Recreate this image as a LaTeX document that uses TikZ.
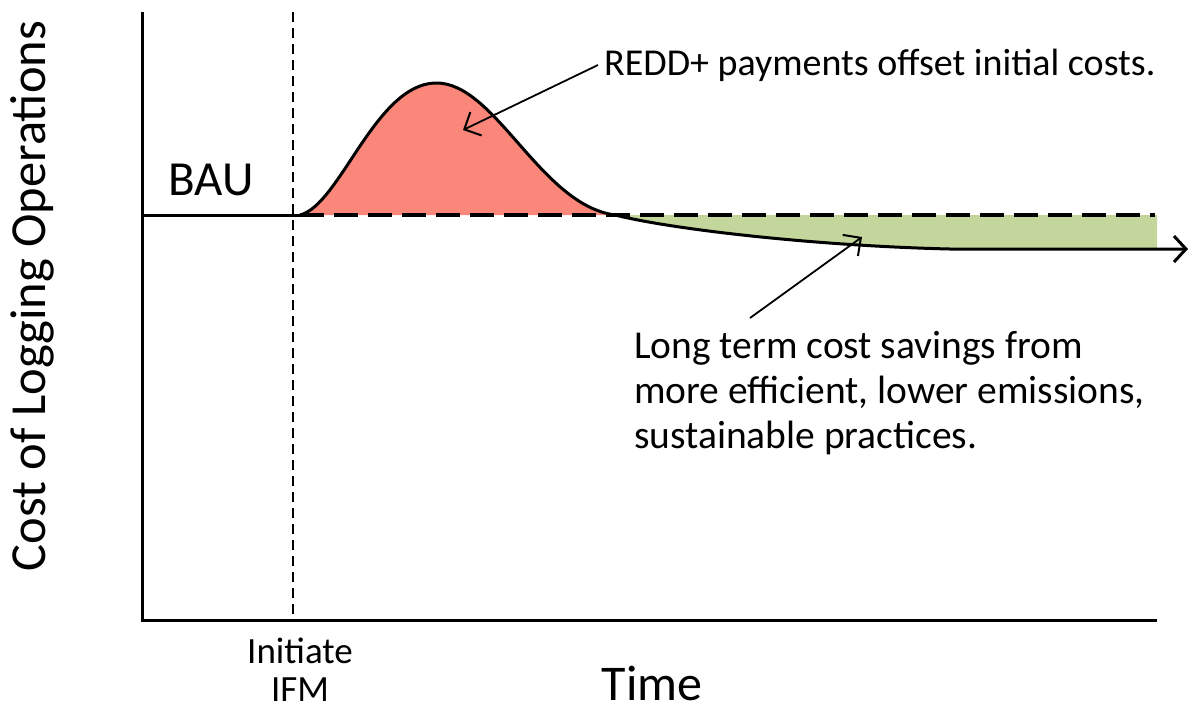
\documentclass[tikz,border=0pt]{standalone}
\usepackage{fontspec}
\setmainfont{Carlito}
\usetikzlibrary{arrows.meta}
\definecolor{costred}{RGB}{250,135,122}
\definecolor{savegreen}{RGB}{195,214,155}

\begin{document}
\begin{tikzpicture}[x=1pt,y=-1pt,
  axis/.style={line width=3pt},
  baudash/.style={line width=3.5pt,dash pattern=on 24pt off 10pt},
  costline/.style={line width=3pt},
  note/.style={-{Straight Barb[length=13pt,width=26pt,line width=2pt]},line width=1.8pt},
  label/.style={inner sep=0pt,font=\fontsize{38}{45}\selectfont}]
\useasboundingbox (0,0) rectangle (1190,713);

\coordinate (o) at (142,620);
\coordinate (ytop) at (142,12);
\coordinate (xend) at (1157,620);
\coordinate (start) at (300,215);
\coordinate (cross) at (615,215);
\coordinate (flat) at (950,249);
\coordinate (gend) at (1157,249);
\coordinate (tip) at (1188,249);

% filled areas
\fill[costred] (start) .. controls (340,205) and (375,85) .. (435,83)
  .. controls (495,81) and (540,205) .. (cross) -- cycle;
\fill[savegreen] (cross) .. controls (675,230) and (820,246) .. (flat)
  -- (gend) -- (1157,215) -- cycle;

% BAU level and start of IFM
\draw[baudash] (start) -- (1155,215);
\draw[line width=2pt,dash pattern=on 10pt off 6pt] (293,12) -- (293,620);

% cost curve
\draw[costline] (142,215) -- (start);
\draw[costline,-{Straight Barb[length=12pt,width=26pt,line width=3pt]}]
  (start) .. controls (340,205) and (375,85) .. (435,83)
  .. controls (495,81) and (540,205) .. (cross)
  .. controls (675,230) and (820,246) .. (flat) -- (tip);

% axes
\draw[axis] (ytop) -- (o) -- (xend);

% labels
\node[label,font=\fontsize{49}{50}\selectfont] (bau) at (211,180) {BAU};
\node[label,anchor=west] (redd) at (604,65) {REDD+ payments offset initial costs.};
\node[label,anchor=north west,align=left,font=\fontsize{39.5}{45}\selectfont] (savings) at (634,331)
  {Long term cost savings from\\more efficient, lower emissions,\\sustainable practices.};
\node[label,align=center,font=\fontsize{37}{38}\selectfont] (ifm) at (300,670) {Initiate\\IFM};
\node[label,font=\fontsize{50}{52}\selectfont] (time) at (652,683) {Time};
\node[label,rotate=90,font=\fontsize{50.5}{52}\selectfont] (ylabel) at (32,296) {Cost of Logging Operations};

% annotation arrows
\coordinate (reddtip) at (463,130);
\coordinate (savestart) at (750,318);
\coordinate (savetip) at (862,237);
\draw[note] ([xshift=-6pt]redd.west) -- (reddtip);
\draw[note] (savestart) -- (savetip);
\end{tikzpicture}
\end{document}
